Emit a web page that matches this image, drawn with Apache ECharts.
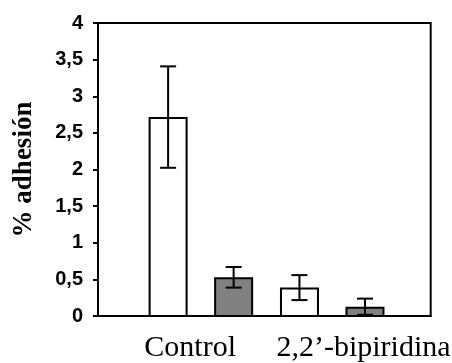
<!DOCTYPE html>
<html>
<head>
<meta charset="utf-8">
<script src="https://cdn.jsdelivr.net/npm/echarts@6/dist/echarts.min.js"></script>
<style>html,body{margin:0;padding:0;background:#fff}#c{width:452px;height:363px}</style>
</head>
<body>
<div id="c"></div>
<script>
// ---- data ----
const categories = ['Control', '2,2\u2019-bipiridina'];
const whiteValues = [2.72, 0.40];
const whiteErrors = [0.69, 0.17];
const greyValues = [0.54, 0.14];
const greyErrors = [0.14, 0.11];
const yTicks = [0, 0.5, 1, 1.5, 2, 2.5, 3, 3.5, 4];
const yTitle = '% adhesi\u00f3n';

// ---- layout constants ----
const BAR_W = 39;
const BAR_GAP = 0.68; // fraction of bar width
const OFFSET = (BAR_W + BAR_W * BAR_GAP) / 2;

const chart = echarts.init(document.getElementById('c'), null, {renderer: 'canvas'});

function errItem(dir) {
  return function (params, api) {
    const i = api.value(0);
    const v = api.value(1);
    const e = api.value(2);
    const top = api.coord([i, v + e]);
    const bot = api.coord([i, v - e]);
    const x = top[0] + dir * OFFSET;
    const cap = 8;
    const style = {stroke: '#000', lineWidth: 2, fill: null};
    return {
      type: 'group',
      children: [
        {type: 'line', shape: {x1: x, y1: top[1], x2: x, y2: bot[1]}, style: style},
        {type: 'line', shape: {x1: x - cap, y1: top[1], x2: x + cap, y2: top[1]}, style: style},
        {type: 'line', shape: {x1: x - cap, y1: bot[1], x2: x + cap, y2: bot[1]}, style: style}
      ]
    };
  };
}

const option = {
  animation: false,
  backgroundColor: '#fff',
  grid: [
    {left: 98, right: 15, top: 23, bottom: 46, show: true, borderColor: '#000', borderWidth: 2, backgroundColor: 'transparent', z: 0},
    {left: 135.2, right: 54.1, top: 23, bottom: 46}
  ],
  xAxis: [
    {
      type: 'category', gridIndex: 0, data: categories,
      axisLine: {show: true, lineStyle: {color: '#000', width: 2}},
      axisTick: {show: false},
      axisLabel: {
        margin: 17,
        interval: 0,
        formatter: function (v, idx) { return idx === 0 ? '{a|' + v + '}' : '{b|' + v + '}'; },
        rich: {
          a: {fontFamily: '"Liberation Serif", "Times New Roman", serif', fontSize: 30, color: '#000', padding: [0, 0, 0, 18]},
          b: {fontFamily: '"Liberation Serif", "Times New Roman", serif', fontSize: 30, color: '#000', padding: [0, 0, 0, 32]}
        }
      }
    },
    {
      type: 'category', gridIndex: 1, data: categories,
      axisLine: {show: false}, axisTick: {show: false}, axisLabel: {show: false}
    }
  ],
  yAxis: [
    {
      type: 'value', gridIndex: 0, min: 0, max: 4, interval: 0.5,
      name: yTitle, nameLocation: 'middle', nameGap: 60, nameRotate: 90,
      nameTextStyle: {fontFamily: '"Liberation Serif", "Times New Roman", serif', fontWeight: 'bold', fontSize: 27, color: '#000'},
      axisLine: {show: true, lineStyle: {color: '#000', width: 2}},
      axisTick: {show: true, inside: false, length: 5, lineStyle: {color: '#000', width: 2}},
      axisLabel: {
        margin: 15, color: '#000', fontFamily: '"Liberation Sans", Arial, sans-serif', fontWeight: 'bold', fontSize: 20,
        formatter: function (v) { return String(v).replace('.', ','); }
      },
      splitLine: {show: false}
    },
    {type: 'value', gridIndex: 1, min: 0, max: 4, interval: 0.5, show: false, splitLine: {show: false}}
  ],
  series: [
    {
      type: 'bar', xAxisIndex: 1, yAxisIndex: 1, data: whiteValues,
      barWidth: BAR_W, barGap: (BAR_GAP * 100) + '%',
      itemStyle: {color: '#fff', borderColor: '#000', borderWidth: 2}, z: 2
    },
    {
      type: 'bar', xAxisIndex: 1, yAxisIndex: 1, data: greyValues,
      barWidth: BAR_W, barGap: (BAR_GAP * 100) + '%',
      itemStyle: {color: '#808080', borderColor: '#000', borderWidth: 2}, z: 2
    },
    {
      type: 'custom', xAxisIndex: 1, yAxisIndex: 1, z: 5,
      data: whiteValues.map((v, i) => [i, v, whiteErrors[i]]),
      renderItem: errItem(-1)
    },
    {
      type: 'custom', xAxisIndex: 1, yAxisIndex: 1, z: 5,
      data: greyValues.map((v, i) => [i, v, greyErrors[i]]),
      renderItem: errItem(1)
    }
  ]
};
chart.setOption(option);
</script>
</body>
</html>
